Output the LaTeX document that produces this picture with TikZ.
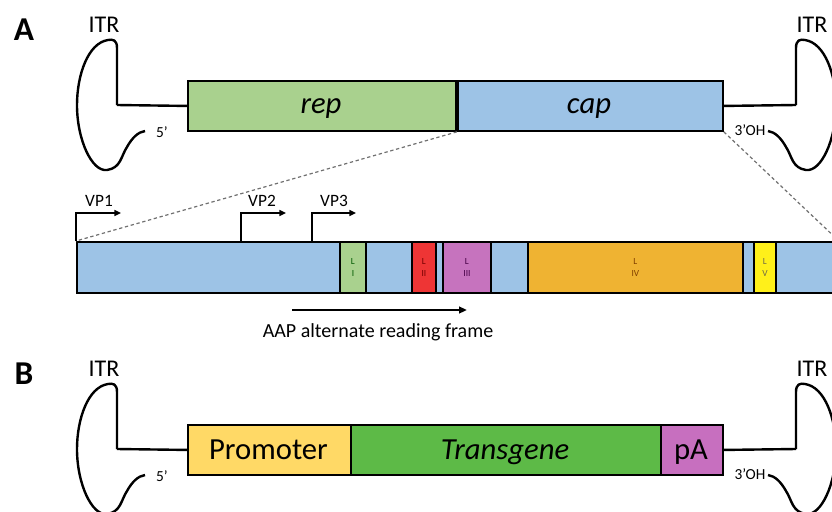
\documentclass[tikz,border=0pt]{standalone}
\usepackage{fontspec}
\setmainfont{Carlito}
\usetikzlibrary{arrows.meta}
\definecolor{repgreen}{HTML}{A9D18E}
\definecolor{capblue}{HTML}{9DC3E6}
\definecolor{lred}{HTML}{EE3535}
\definecolor{lpurple}{HTML}{C673BE}
\definecolor{lorange}{HTML}{EFB332}
\definecolor{lyellow}{HTML}{FFF01A}
\definecolor{promyellow}{HTML}{FFD966}
\definecolor{tgreen}{HTML}{5DBA47}
\definecolor{papurple}{HTML}{C76FBF}
\definecolor{dashgray}{HTML}{707070}
\tikzset{
  gbox/.style 2 args={draw=black, line width=1.4pt, inner sep=0pt, anchor=north west,
    minimum width=#1*0.75pt, minimum height=#2*0.75pt},
  itrline/.style={draw=black, line width=1.8pt, line join=miter},
  dashline/.style={draw=dashgray, line width=0.9pt, dash pattern=on 2.5pt off 2pt},
  vparrow/.style={draw=black, line width=1.1pt, -{Triangle[length=5pt,width=4.5pt]}},
  biglab/.style={anchor=base, font=\fontsize{23}{23}\selectfont\itshape},
  bigup/.style={anchor=base, font=\fontsize{23}{23}\selectfont},
  itrlab/.style={anchor=base, font=\fontsize{18}{18}\selectfont},
  endlab/.style={anchor=base, font=\fontsize{11.5}{11.5}\selectfont},
  panlab/.style={anchor=base, font=\fontsize{25}{25}\selectfont\bfseries},
  vplab/.style={anchor=base, font=\fontsize{13}{13}\selectfont},
  llab/.style={align=center, inner sep=0pt, font=\fontsize{7}{9.5}\selectfont},
  itrloop/.pic={
    \draw[itrline] (0,0) -- (0,-57) .. controls (0,-65) and (-4,-66) .. (-9,-65)
      .. controls (-29,-62) and (-40,-30) .. (-40,0)
      .. controls (-40,35) and (-25,67) .. (-10,65)
      .. controls (4,63) and (4,51) .. (10,42)
      .. controls (15,33) and (21,27) .. (28,26);
  }
}
\begin{document}
\begin{tikzpicture}[x=0.75pt,y=-0.75pt]
\useasboundingbox (0,0) rectangle (832,511);
\clip (0,0) rectangle (832,511);

% ---------- Panel A ----------
\node[panlab] (labA) at (24,40) {A};
\node[gbox={268}{50}, fill=repgreen] (rep) at (187,80) {};
\node[gbox={267}{50}, fill=capblue] (cap) at (455,80) {};
\draw[line width=2.6pt] (rep.north east) -- (rep.south east);
\node[biglab] (reptxt) at (321,113) {rep};
\node[biglab] (captxt) at (589,113) {cap};

\coordinate (itrAL) at (117,105);
\coordinate (itrAR) at (796,105);
\draw[itrline] (rep.west) -- (itrAL);
\draw[itrline] (cap.east) -- (itrAR);
\pic at (itrAL) {itrloop};
\pic[xscale=-1] at (itrAR) {itrloop};
\node[itrlab] (itrA1) at (104,32) {ITR};
\node[itrlab] (itrA2) at (812,32) {ITR};
\node[endlab] (fiveA) at (162,137) {5’};
\node[endlab] (threeA) at (750,135) {3’OH};

% expanded cap
\node[gbox={761}{51}, fill=capblue] (bar) at (76,241) {};
\draw[dashline] (rep.south east) -- (bar.north west);
\draw[dashline] (cap.south east) -- (bar.north east);

\node[gbox={26}{51}, fill=repgreen] (L1) at (339,241) {};
\node[gbox={24}{51}, fill=lred] (L2) at (411,241) {};
\node[gbox={48}{51}, fill=lpurple] (L3) at (442,241) {};
\node[gbox={215}{51}, fill=lorange] (L4) at (527,241) {};
\node[gbox={22}{51}, fill=lyellow] (L5) at (753,241) {};
\node[llab, text=green!35!black] (L1t) at (L1.center) {L\\I};
\node[llab, text=red!45!black] (L2t) at (L2.center) {L\\II};
\node[llab, text=violet!55!black] (L3t) at (L3.center) {L\\III};
\node[llab, text=orange!50!black] (L4t) at (L4.center) {L\\IV};
\node[llab, text=yellow!35!black] (L5t) at (L5.center) {L\\V};

% VP promoters
\coordinate (vp1top) at (76,213);
\coordinate (vp1end) at (121,213);
\coordinate (vp2b) at (241,241);
\coordinate (vp2top) at (241,213);
\coordinate (vp2end) at (286,213);
\coordinate (vp3b) at (312,241);
\coordinate (vp3top) at (312,213);
\coordinate (vp3end) at (356,213);
\draw[vparrow] (bar.north west) -- (vp1top) -- (vp1end);
\draw[vparrow] (vp2b) -- (vp2top) -- (vp2end);
\draw[vparrow] (vp3b) -- (vp3top) -- (vp3end);
\node[vplab] (vp1) at (99,206) {VP1};
\node[vplab] (vp2) at (262,206) {VP2};
\node[vplab] (vp3) at (334,206) {VP3};

% AAP
\coordinate (aapS) at (292,310);
\coordinate (aapE) at (467,310);
\draw[line width=1.5pt, -{Triangle[length=6pt,width=5pt]}] (aapS) -- (aapE);
\node[anchor=base, font=\fontsize{15}{15}\selectfont] (aap) at (378,337) {AAP alternate reading frame};

% ---------- Panel B ----------
\node[panlab] (labB) at (24,384) {B};
\node[gbox={163}{50}, fill=promyellow] (prom) at (187,424) {};
\node[gbox={310}{50}, fill=tgreen] (tg) at (350,424) {};
\node[gbox={62}{50}, fill=papurple] (pa) at (660,424) {};
\node[bigup] (promtxt) at (268.5,459) {Promoter};
\node[biglab] (tgtxt) at (505,459) {Transgene};
\node[bigup] (patxt) at (691,459) {pA};

\coordinate (itrBL) at (117,449);
\coordinate (itrBR) at (796,449);
\draw[itrline] (prom.west) -- (itrBL);
\draw[itrline] (pa.east) -- (itrBR);
\pic at (itrBL) {itrloop};
\pic[xscale=-1] at (itrBR) {itrloop};
\node[itrlab] (itrB1) at (104,376) {ITR};
\node[itrlab] (itrB2) at (812,376) {ITR};
\node[endlab] (fiveB) at (162,481) {5’};
\node[endlab] (threeB) at (750,479) {3’OH};
\end{tikzpicture}
\end{document}
